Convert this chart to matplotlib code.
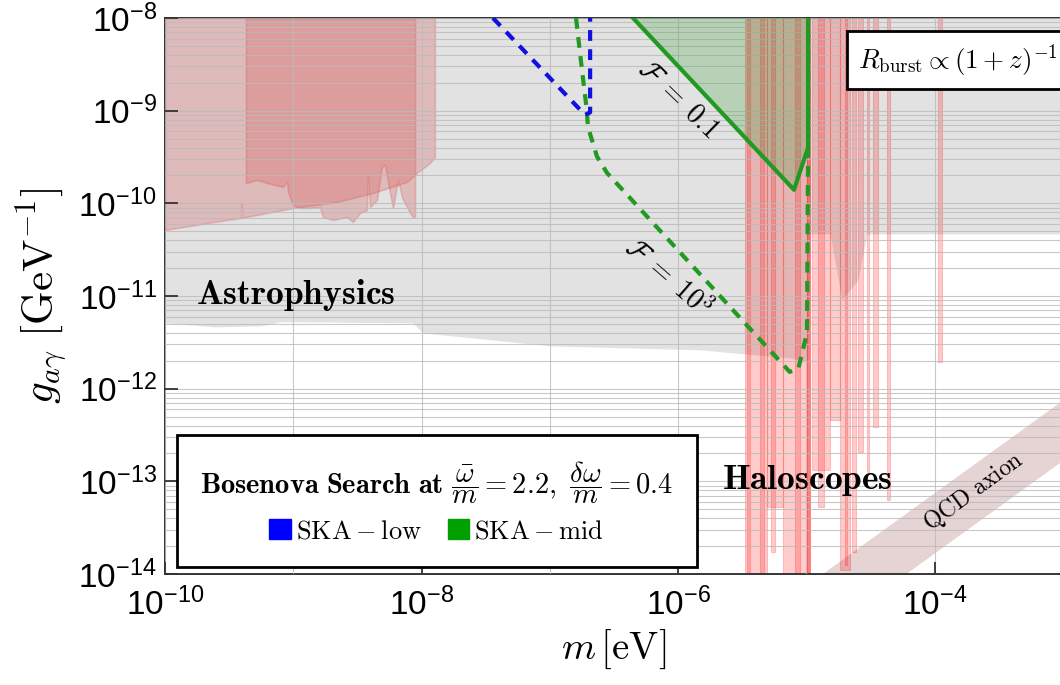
import numpy as np
import matplotlib.pyplot as plt
from matplotlib.patches import Patch
from matplotlib.ticker import NullFormatter

plt.rcParams['font.family'] = ['Liberation Sans', 'DejaVu Sans']
plt.rcParams['mathtext.fontset'] = 'cm'

# grey "Astrophysics" region: lower edge (log10 m, log10 g), upper edge = top of plot
astro_logm = [-10.0, -9.61, -9.26, -9.10, -8.95, -8.07, -7.99, -7.0, -5.83, -5.13,
              -4.99, -4.973, -4.817, -4.723, -4.599, -4.528, -3.0]
astro_logg = [-11.29, -11.333, -11.323, -11.279, -11.279, -11.29, -11.398, -11.538, -11.581, -11.668,
              -11.711, -10.33, -10.33, -11.042, -10.826, -10.33, -10.33]

# light red bound (left)
light_logm = [-10.0, -9.517, -9.408, -9.402, -9.396, -9.205, -9.002, -8.659, -8.379,
              -8.114, -8.036, -7.935, -7.896]
light_logg = [-10.287, -10.179, -10.16, -9.996, -10.155, -10.104, -10.05, -9.985, -9.888,
              -9.769, -9.672, -9.564, -9.5]

# darker red bound
dark_logm = [-9.369, -9.337, -9.283, -9.205, -9.080, -9.049, -9.041, -9.002, -8.948, -8.870,
             -8.792, -8.769, -8.691, -8.581, -8.535, -8.480, -8.426, -8.418, -8.402, -8.348,
             -8.309, -8.285, -8.246, -8.223, -8.184, -8.153, -8.114, -8.090, -8.067, -8.051]
dark_logg = [-9.780, -9.769, -9.748, -9.780, -9.823, -9.769, -9.877, -10.017, -10.050, -10.050,
             -10.039, -10.147, -10.179, -10.147, -10.201, -10.104, -10.071, -9.694, -10.039, -9.963,
             -9.607, -9.586, -9.888, -10.050, -9.748, -9.931, -10.039, -10.104, -10.147, -10.147]

# haloscope stripes: mass range and lowest coupling reached
halo_logm_lo = [-5.479, -5.308, -5.277, -5.183, -4.957, -4.910, -4.817, -4.739, -4.645,
                -4.599, -4.482, -4.373, -3.975, -5.464, -5.362, -5.090, -4.700, -4.530]
halo_logm_hi = [-5.308, -5.183, -5.246, -4.993, -4.817, -4.864, -4.739, -4.661, -4.614,
                -4.560, -4.443, -4.349, -3.944, -5.440, -5.331, -5.051, -4.680, -4.515]
halo_logg_lo = [-14.0, -13.275, -13.761, -14.0, -12.876, -13.275, -12.337, -13.955, -13.761,
                -12.682, -12.412, -13.2, -11.711, -14.0, -14.0, -14.0, -13.9, -12.9]
halo_bright_logm = [-4.993, -4.965]

# QCD axion band
qcd_m = [1e-6, 1e-2]
qcd_g_lo = [1.7e-16, 1.7e-12]
qcd_g_hi = [7.6e-16, 7.6e-12]

# SKA-low, F = 10^3
ska_low_m = [3.6e-8, 1.88e-7, 2.06e-7, 2.06e-7]
ska_low_g = [1e-8, 9.0e-10, 9.6e-10, 1e-8]
# SKA-mid, F = 10^3
ska_mid_m = [1.6e-7, 1.78e-7, 1.94e-7, 1.98e-7, 2.33e-7, 2.79e-7, 7.4e-6, 8.6e-6, 1.01e-5, 1.03e-5, 1.03e-5]
ska_mid_g = [1e-8, 2.75e-9, 1.02e-9, 6.7e-10, 3.2e-10, 2.13e-10, 1.52e-12, 1.6e-12, 4.0e-12, 3.77e-10, 1e-8]
# SKA-mid, F = 0.1
ska_mid01_m = [4.45e-7, 8.0e-6, 1.03e-5, 1.03e-5]
ska_mid01_g = [1e-8, 1.4e-10, 4.0e-10, 1e-8]

gtop = 1e-8

fig = plt.figure(figsize=(10.6, 6.85), dpi=100)
ax = fig.add_axes([165 / 1060, 111 / 685, 898 / 1060, 556 / 685])
ax.set_xscale('log')
ax.set_yscale('log')

# grey astro
ax.fill_between(10 ** np.array(astro_logm), 10 ** np.array(astro_logg), gtop,
                color='#d0d0d0', alpha=0.6, lw=0, zorder=1)

# red bounds
ax.fill_between(10 ** np.array(light_logm), 10 ** np.array(light_logg), gtop,
                color='#d85050', alpha=0.27, lw=1.2, ec='#d85050', zorder=2)
ax.fill_between(10 ** np.array(dark_logm), 10 ** np.array(dark_logg), gtop,
                color='#d85050', alpha=0.27, lw=1.2, ec='#d85050', zorder=2)

for lo, hi, glo in zip(halo_logm_lo, halo_logm_hi, halo_logg_lo):
    ax.fill_between([10 ** lo, 10 ** hi], 10 ** glo, gtop, color='red', alpha=0.2, lw=0.8,
                    ec=(1, 0, 0, 0.25), zorder=2)
ax.fill_between(10 ** np.array(halo_bright_logm), 1e-14, gtop, color='red', alpha=0.5, lw=0, zorder=2)

# QCD band
ax.fill_between(qcd_m, qcd_g_lo, qcd_g_hi, color='#e6d3d3', lw=0, zorder=1.5)

# SKA curves
green = '#229922'
ax.fill(ska_mid01_m, ska_mid01_g, color=green, alpha=0.22, lw=0, zorder=3)
ax.plot(ska_mid01_m, ska_mid01_g, color=green, lw=3, zorder=5)
ax.plot(ska_mid_m, ska_mid_g, color=green, lw=3, ls=(0, (2.6, 2)), zorder=4)
ax.plot(ska_low_m, ska_low_g, color='#1010e0', lw=3, ls=(0, (2.6, 2)), zorder=4)

# ticks and grid
ax.set_xticks([1e-10, 1e-8, 1e-6, 1e-4, 1e-2])
ax.set_xticks([1e-9, 1e-7, 1e-5, 1e-3], minor=True)
ax.set_yticks([1e-14, 1e-13, 1e-12, 1e-11, 1e-10, 1e-9, 1e-8])
ax.set_yticks([s * 10.0 ** e for e in range(-14, -8) for s in range(2, 10)], minor=True)
ax.xaxis.set_minor_formatter(NullFormatter())
ax.yaxis.set_minor_formatter(NullFormatter())
ax.set_xlim(1e-10, 1e-3)
ax.set_ylim(1e-14, 1e-8)
ax.tick_params(which='major', direction='in', length=9, width=1.3, colors='#333333',
               labelsize=24, labelcolor='black')
ax.tick_params(axis='x', which='major', pad=10)
ax.tick_params(axis='y', which='major', pad=6)
ax.tick_params(which='minor', length=0)
ax.grid(True, which='both', color='#bbbbbb', lw=0.8, alpha=0.8, zorder=2.5)
ax.set_axisbelow(False)
for s in ax.spines.values():
    s.set_color('#333333')
    s.set_linewidth(1.4)

ax.set_xlabel(r'$m\,[\mathrm{eV}]$', fontsize=28, labelpad=4)
ax.set_ylabel(r'$g_{a\gamma}\ [\mathrm{GeV}^{-1}]$', fontsize=31, labelpad=6)

# annotations
ax.text(0.146, 0.502, r'$\mathbf{Astrophysics}$', transform=ax.transAxes, fontsize=25.5,
        ha='center', va='center', zorder=6)
ax.text(0.715, 0.169, r'$\mathbf{Haloscopes}$', transform=ax.transAxes, fontsize=25.5,
        ha='center', va='center', zorder=6)
ax.text(0.571, 0.853, r'$\mathcal{F}\;=\;0.1$', transform=ax.transAxes, fontsize=20,
        ha='center', va='center', rotation=-44, zorder=6)
ax.text(0.560, 0.534, r'$\mathcal{F}\;=\;10^3$', transform=ax.transAxes, fontsize=20,
        ha='center', va='center', rotation=-41, zorder=6)
ax.text(0.900, 0.149, r'$\mathrm{QCD\ axion}$', transform=ax.transAxes, fontsize=17,
        ha='center', va='center', rotation=36, zorder=6)
ax.text(0.772, 0.924, r'$R_{\mathrm{burst}}\propto(1+z)^{-1}$', transform=ax.transAxes,
        fontsize=19.5, ha='left', va='center', zorder=7,
        bbox=dict(boxstyle='square,pad=0.4', fc='white', ec='black', lw=2))

handles = [Patch(color='#0000ff', label=r'$\mathrm{SKA-low}$'),
           Patch(color='#00a000', label=r'$\mathrm{SKA-mid}$')]
leg = ax.legend(handles=handles, ncol=2, loc='lower left', bbox_to_anchor=(0.013, 0.013),
                borderaxespad=0, fontsize=19, handlelength=0.8, handleheight=0.8,
                handletextpad=0.2, columnspacing=1.0, frameon=True, fancybox=False,
                framealpha=1,
                title=r'$\mathbf{Bosenova\ Search\ at}\ \dfrac{\bar{\omega}}{m}=2.2,\ \dfrac{\delta\omega}{m}=0.4$',
                title_fontsize=20.5, borderpad=0.9)
leg.get_frame().set_edgecolor('black')
leg.get_frame().set_linewidth(2)
leg.set_zorder(8)

fig.savefig('out.png', dpi=100)
